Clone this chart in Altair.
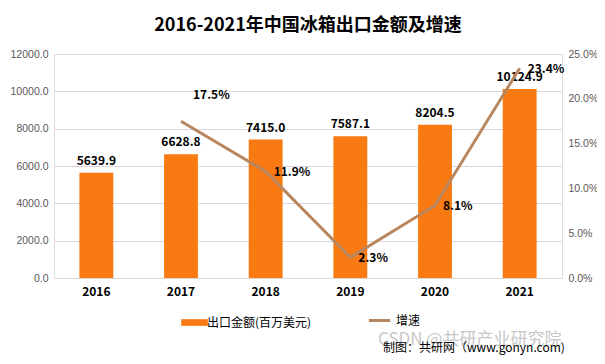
import altair as alt
import pandas as pd

years = ["2016", "2017", "2018", "2019", "2020", "2021"]
amount = [5639.9, 6628.8, 7415.0, 7587.1, 8204.5, 10124.9]
growth = [None, 0.175, 0.119, 0.023, 0.081, 0.234]
growth_labels = ["", "17.5%", "11.9%", "2.3%", "8.1%", "23.4%"]

df = pd.DataFrame({
    "year": years,
    "amount": amount,
    "growth": growth,
    "glabel": growth_labels,
    "s1": ["出口金额(百万美元)"] * 6,
    "s2": ["增速"] * 6,
})

FONT = "Noto Sans CJK SC"
AXFONT = "Liberation Sans"
BAR = "#F97A12"
LINE = "#B8865E"

x = alt.X("year:N", sort=years, title=None,
          scale=alt.Scale(paddingInner=0.6, paddingOuter=0.3),
          axis=alt.Axis(labelAngle=0, labelFontWeight="bold", labelFontSize=12,
                        labelColor="#000000", ticks=False, domainColor="#D9D9D9",
                        labelPadding=8, labelFont=FONT))

ay = alt.Y("amount:Q", title=None,
           scale=alt.Scale(domain=[0, 12000]),
           axis=alt.Axis(values=[0, 2000, 4000, 6000, 8000, 10000, 12000], format=".1f",
                         domain=False, ticks=False, labelColor="#595959",
                         labelFontSize=10.5, labelPadding=6, gridColor="#DCD6E0",
                         labelFont=AXFONT))

gy = alt.Y("growth:Q", title=None, scale=alt.Scale(domain=[0, 0.25]),
           axis=alt.Axis(orient="right", values=[0, 0.05, 0.1, 0.15, 0.2, 0.25], format=".1%",
                         grid=False, domain=False, ticks=False, labelColor="#595959",
                         labelFontSize=10.5, labelPadding=6, labelFont=AXFONT))

base = alt.Chart(df)

bars = base.mark_bar(color=BAR).encode(
    x=x,
    y=ay,
    color=alt.Color("s1:N", scale=alt.Scale(domain=["出口金额(百万美元)"], range=[BAR]),
                    legend=alt.Legend(title=None, orient="none", legendX=132, legendY=260,
                                      symbolType="M-1.8,-0.45h3.6v0.9h-3.6z", symbolSize=220,
                                      labelFontSize=12, labelFont=FONT, labelColor="#000000")),
)

bar_text = base.mark_text(baseline="bottom", dy=-5, fontWeight="bold", fontSize=12,
                          font=FONT, color="#000000").encode(
    x=x,
    y=ay,
    text=alt.Text("amount:Q", format=".1f"),
)

left = alt.layer(bars, bar_text)

line = base.transform_filter("datum.growth != null").mark_line(strokeWidth=3).encode(
    x=x,
    y=gy,
    stroke=alt.Stroke("s2:N", scale=alt.Scale(domain=["增速"], range=[LINE]),
                      legend=alt.Legend(title=None, orient="none", legendX=313, legendY=254,
                                        symbolType="stroke", symbolSize=450, symbolStrokeWidth=3,
                                        labelFontSize=12, labelFont=FONT, labelColor="#000000")),
)

gtext = base.transform_filter("datum.growth != null && datum.year != '2017'").mark_text(
    align="left", baseline="middle", dx=8, dy=1, fontWeight="bold", fontSize=12,
    font=FONT, color="#000000").encode(
    x=x,
    y=gy,
    text="glabel:N",
)

gtext17 = base.transform_filter("datum.year == '2017'").mark_text(
    align="left", baseline="middle", dx=12, dy=-26, fontWeight="bold", fontSize=12,
    font=FONT, color="#000000").encode(
    x=x,
    y=gy,
    text="glabel:N",
)

right = alt.layer(line, gtext, gtext17)

wm = alt.Chart(pd.DataFrame({"t": ["CSDN @共研产业研究院"]})).mark_text(
    align="left", baseline="middle", fontSize=17, font=FONT, color="#C8C8C8").encode(
    x=alt.value(324), y=alt.value(286), text="t:N")
src = alt.Chart(pd.DataFrame({"t": ["制图：共研网（www.gonyn.com)"]})).mark_text(
    align="left", baseline="middle", fontSize=12, font=FONT, color="#000000").encode(
    x=alt.value(329), y=alt.value(294), text="t:N")

chart = alt.layer(left, right, wm, src).resolve_scale(
    y="independent", color="independent"
).properties(
    width=508, height=224,
    title=alt.TitleParams("2016-2021年中国冰箱出口金额及增速", font=FONT, fontSize=18,
                          fontWeight="bold", color="#000000", anchor="middle", offset=14),
    autosize=alt.AutoSizeParams(type="none"),
    padding={"left": 46, "top": 46, "right": 35, "bottom": 78},
).configure_view(stroke=None).configure(background="white")

chart.save("out.html", embed_options={"renderer": "svg", "actions": False})
